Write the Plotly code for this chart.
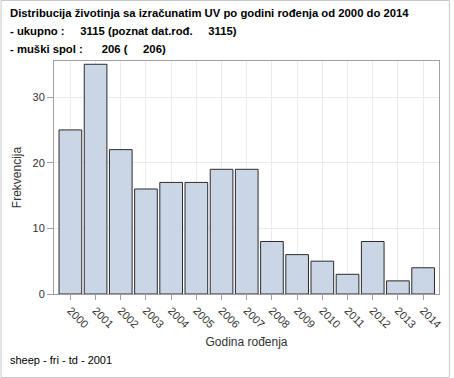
import plotly.graph_objects as go

years = ["2000", "2001", "2002", "2003", "2004", "2005", "2006", "2007",
         "2008", "2009", "2010", "2011", "2012", "2013", "2014"]
counts = [25, 35, 22, 16, 17, 17, 19, 19, 8, 6, 5, 3, 8, 2, 4]
y_ticks = [0, 10, 20, 30]

title_lines = [
    "Distribucija životinja sa izračunatim UV po godini rođenja od 2000 do 2014",
    "- ukupno :     3115 (poznat dat.rođ.     3115)",
    "- muški spol :      206 (     206)",
]
footer = "sheep - fri - td - 2001"

W, H = 454, 378
ML, MR, MT, MB = 54, 11, 61, 84
PW, PH = W - ML - MR, H - MT - MB

font = "Liberation Sans, Arial, sans-serif"

fig = go.Figure()
fig.add_trace(go.Bar(
    x=list(range(len(years))), y=counts, width=0.9,
    marker=dict(color="#cad5e5", line=dict(color="#2b2b2b", width=1)),
))

fig.update_layout(
    width=W, height=H,
    margin=dict(l=ML, r=MR, t=MT, b=MB),
    paper_bgcolor="white", plot_bgcolor="white",
    showlegend=False,
    font=dict(family=font, color="#333333", size=11),
    bargap=0.1,
)
fig.update_xaxes(
    range=[-0.65, len(years) - 0.37],
    tickmode="array", tickvals=list(range(len(years))), ticktext=years,
    tickangle=45, ticks="outside", ticklen=5, tickcolor="#a0a0a0",
    showgrid=True, gridcolor="#ebebeb", gridwidth=1,
    showline=True, linecolor="#a0a0a0", mirror=True,
    title=dict(text="Godina rođenja", font=dict(size=12, color="#333333"), standoff=8),
    tickfont=dict(size=11, color="#333333"),
)
fig.update_yaxes(
    range=[0, 35.5],
    tickmode="array", tickvals=y_ticks,
    ticks="outside", ticklen=6, tickcolor="#a0a0a0",
    showgrid=True, gridcolor="#ebebeb", gridwidth=1,
    zeroline=False,
    showline=True, linecolor="#a0a0a0", mirror=True,
    title=dict(text="Frekvencija", font=dict(size=12, color="#333333"), standoff=8),
    tickfont=dict(size=11, color="#333333"),
)

ys = [13, 31, 49]
for line, yy in zip(title_lines, ys):
    fig.add_annotation(
        text="<b>" + line + "</b>", xref="paper", yref="paper",
        x=(8 - ML) / PW, y=(H - MB - yy) / PH,
        xanchor="left", yanchor="middle", showarrow=False,
        font=dict(size=11.3, color="black", family=font),
    )
fig.add_annotation(
    text=footer, xref="paper", yref="paper",
    x=(8 - ML) / PW, y=(H - MB - 360) / PH,
    xanchor="left", yanchor="middle", showarrow=False,
    font=dict(size=11, color="black", family=font),
)
fig.add_shape(
    type="rect", xref="paper", yref="paper",
    x0=(0.5 - ML) / PW, x1=(W - 0.5 - ML) / PW,
    y0=(H - MB - (H - 0.5)) / PH, y1=(H - MB - 0.5) / PH,
    line=dict(color="#c8c8c8", width=1), fillcolor="rgba(0,0,0,0)", layer="above",
)

fig.write_html("out.html", config={"displayModeBar": False},
               post_script="document.body.style.margin='0';")
